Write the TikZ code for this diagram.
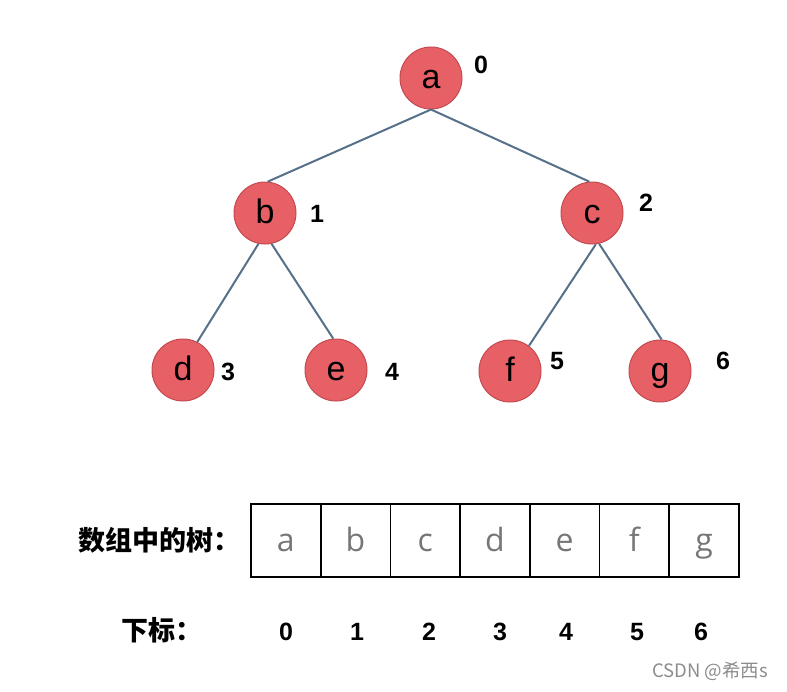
\documentclass[tikz,border=0pt]{standalone}
\usepackage{fontspec}
\setmainfont{Liberation Sans}
\newfontfamily\cjk{Noto Sans CJK SC}
\newfontfamily\cellfont{Open Sans}
\usepackage{xcolor}
\usetikzlibrary{positioning}
\definecolor{nodered}{RGB}{231,96,101}
\definecolor{noderim}{RGB}{196,74,80}
\definecolor{edgeblue}{RGB}{86,112,138}
\definecolor{cellgray}{RGB}{118,118,118}

\begin{document}
\begin{tikzpicture}[x=1pt,y=-1pt,
	treenode/.style={circle,draw=noderim,fill=nodered,line width=1pt,minimum size=62pt,inner sep=0pt,
		text height=24pt,text depth=4pt,font=\fontsize{34}{34}\selectfont},
	idx/.style={font=\fontsize{25}{25}\selectfont\bfseries},
	edge/.style={edgeblue,line width=2pt},
	cell/.style={draw,line width=1.6pt,minimum width=69.7pt,minimum height=73pt,inner sep=0pt,
		text height=26pt,text depth=4pt,text=cellgray,font=\cellfont\fontsize{32}{32}\selectfont},
	cnlabel/.style={anchor=west,font=\cjk\bfseries\fontsize{27}{27}\selectfont}]
	\useasboundingbox (0,0) rectangle (787,691);
	
	% tree
	\node[treenode] (a) at (431,78) {a};
	\node[treenode] (b) at (265,213) {b};
	\node[treenode] (c) at (592,213) {c};
	\node[treenode] (d) at (183,370) {d};
	\node[treenode] (e) at (336,370) {e};
	\node[treenode] (f) at (510,371) {f};
	\node[treenode] (g) at (660,371) {g};
	\foreach \p/\pa/\q/\qa in {a/270/b/85, a/270/c/95, b/258/d/63, b/282/e/95, c/277/f/53, c/283/g/87}{
		\draw[edge] (\p.\pa) -- (\q.\qa);
	}
	
	% index next to the nodes
	\foreach \n/\x/\y in {0/481/65, 1/317/214, 2/646/203, 3/228/372, 4/392/372, 5/557/361, 6/723/361}{
		\node[idx] (num\n) at (\x,\y) {\n};
	}
	
	% array
	\node[cnlabel] (treelabel) at (75,540) {数组中的树：};
	\foreach \l [count=\i from 0] in {a,b,c,d,e,f,g}{
		\node[cell] (cell\i) at (251+34.85+69.7*\i,540.5) {\l};
	}
	
	% index under the array
	\node[cnlabel] (idxlabel) at (118,630) {下标：};
	\foreach \n/\x in {0/286, 1/357, 2/429, 3/500, 4/566, 5/637, 6/701}{
		\node[idx] (pos\n) at (\x,632) {\n};
	}
	
	\node[text=black!45,font=\cjk\fontsize{18.5}{18.5}\selectfont] (mark) at (710,671) {CSDN @希西s};
\end{tikzpicture}
\end{document}
